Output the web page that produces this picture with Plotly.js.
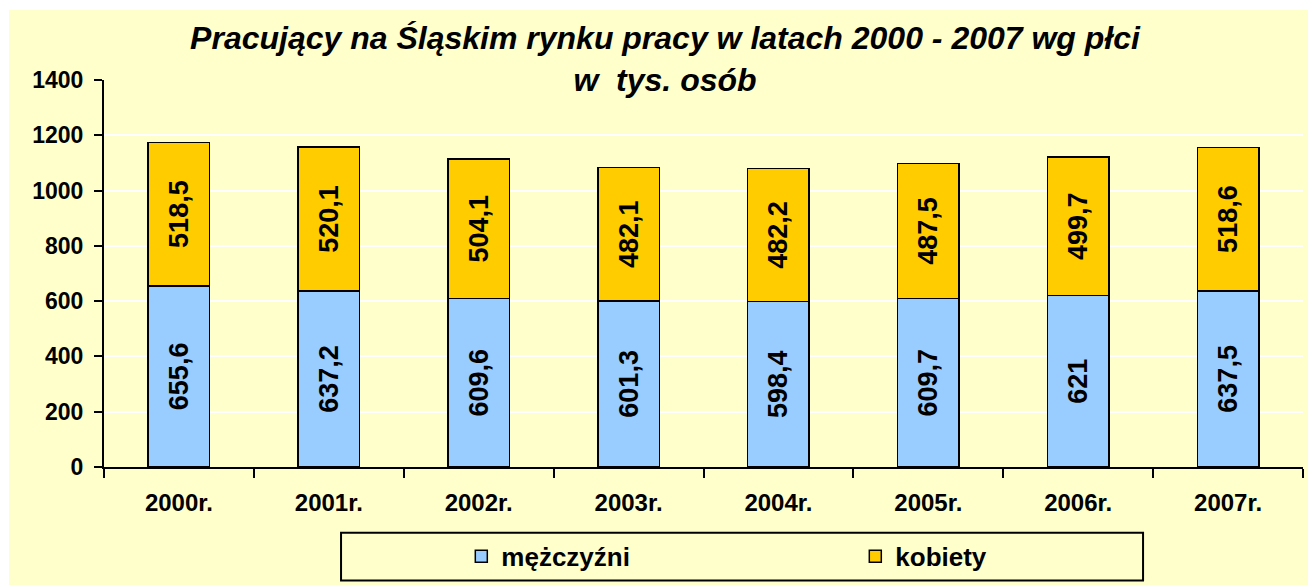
<!DOCTYPE html>
<html>
<head>
<meta charset="utf-8">
<script src="https://cdn.plot.ly/plotly-3.0.1.min.js"></script>
<style>
html,body{margin:0;padding:0;background:#ffffff;}
#chart{position:absolute;left:9px;top:10px;width:1299px;height:575px;}
</style>
</head>
<body>
<div id="chart"></div>
<script>
var years = ["2000r.","2001r.","2002r.","2003r.","2004r.","2005r.","2006r.","2007r."];
var men = [655.6, 637.2, 609.6, 601.3, 598.4, 609.7, 621, 637.5];
var women = [518.5, 520.1, 504.1, 482.1, 482.2, 487.5, 499.7, 518.6];
var seriesNames = ["mężczyźni", "kobiety"];
var yTicks = [0, 200, 400, 600, 800, 1000, 1200, 1400];

function fmt(v){ return String(v).replace('.', ','); }
var FONT = 'Liberation Sans, Arial, sans-serif';

var common = {
  type: 'bar',
  x: years,
  textposition: 'inside',
  insidetextanchor: 'middle',
  textangle: -90,
  constraintext: 'none',
  textfont: {family: FONT, size: 27, color: '#000000', weight: 'bold'},
  hoverinfo: 'none'
};
var t1 = Object.assign({}, common, {
  name: seriesNames[0], y: men, text: men.map(fmt),
  marker: {color: '#99CCFF', line: {color: '#000000', width: 1.5}}
});
var t2 = Object.assign({}, common, {
  name: seriesNames[1], y: women, text: women.map(fmt),
  marker: {color: '#FFCC00', line: {color: '#000000', width: 1.5}}
});

var layout = {
  width: 1299, height: 575,
  margin: {l: 95, r: 5, t: 70, b: 116},
  paper_bgcolor: '#FFFFCC',
  plot_bgcolor: '#FFFFCC',
  barmode: 'stack',
  bargap: 0.59,
  showlegend: true,
  font: {family: FONT, color: '#000000'},
  title: {
    text: 'Pracujący na Śląskim rynku pracy w latach 2000 - 2007 wg płci<br>w\u00A0 tys. osób',
    font: {family: FONT, size: 32, color: '#000000', weight: 'bold', style: 'italic'},
    xref: 'container', x: 0.505, xanchor: 'center',
    yref: 'container', y: 0.932, yanchor: 'top'
  },
  xaxis: {
    type: 'category',
    showline: true, linecolor: '#000000', linewidth: 2,
    ticks: 'outside', tickson: 'boundaries', ticklen: 9, tickwidth: 2, tickcolor: '#000000',
    tickfont: {family: FONT, size: 24, weight: 'bold', color: '#000000'},
    ticklabelstandoff: 13,
    showgrid: false, zeroline: false, fixedrange: true
  },
  yaxis: {
    range: [0, 1400],
    tickvals: yTicks, ticktext: yTicks.map(String),
    showline: true, linecolor: '#000000', linewidth: 2,
    ticks: 'outside', ticklen: 8, tickwidth: 2, tickcolor: '#000000',
    tickfont: {family: FONT, size: 23, weight: 'bold', color: '#000000'},
    ticklabelstandoff: 6,
    showgrid: true, gridcolor: '#FFFFFF', gridwidth: 2,
    zeroline: false, fixedrange: true
  },
  legend: {
    orientation: 'h',
    xref: 'paper', x: 0.298, xanchor: 'left',
    yref: 'paper', y: -0.231, yanchor: 'middle',
    bgcolor: 'rgba(0,0,0,0)', borderwidth: 0,
    entrywidth: 349, entrywidthmode: 'pixels',
    font: {family: FONT, size: 26, weight: 'bold', color: '#000000'},
    traceorder: 'normal'
  },
  shapes: [{
    type: 'rect', xref: 'paper', yref: 'paper',
    x0: 0.1977, x1: 0.8666, y0: -0.293, y1: -0.1697,
    line: {color: '#000000', width: 2}, fillcolor: 'rgba(0,0,0,0)', layer: 'above'
  }]
};

Plotly.newPlot('chart', [t1, t2], layout, {displayModeBar: false, staticPlot: true});
</script>
</body>
</html>
